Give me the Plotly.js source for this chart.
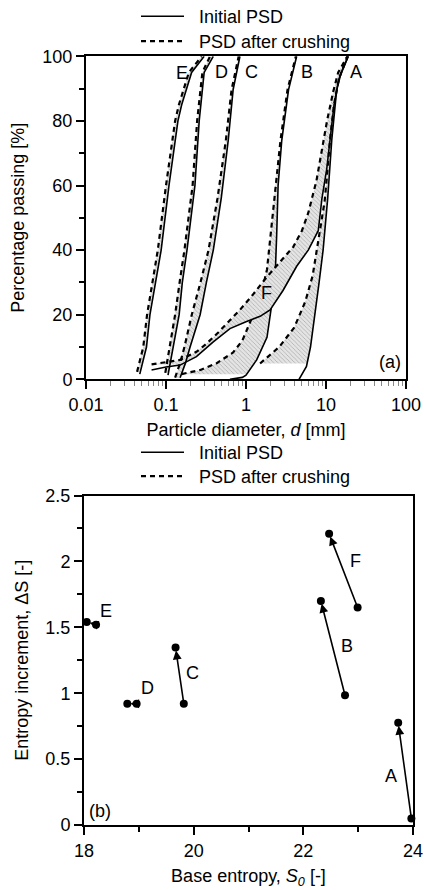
<!DOCTYPE html>
<html>
<head>
<meta charset="utf-8">
<script src="https://cdn.plot.ly/plotly-3.0.1.min.js"></script>
<style>html,body{margin:0;padding:0;background:#fff;}#chart{width:424px;height:890px;}</style>
</head>
<body>
<div id="chart"></div>
<script>
// ---------- Panel (a): particle size distributions ----------
const psdNames = ['A', 'B', 'C', 'D', 'E', 'F'];

// Initial PSD (solid) : diameter [mm] and percentage passing [%]
const A_init_d = [4.6, 5.0, 5.7, 6.4, 7.3, 8.2, 9.2, 10.5, 11.8, 13.6, 15.5, 19];
const A_init_p = [0, 1.5, 4, 10, 20, 30, 40, 56, 74, 89.6, 95, 100];
const B_init_d = [0.63, 0.9, 1.0, 1.36, 1.83, 2.05, 2.3, 2.42, 2.52, 2.8, 3.4, 4.3];
const B_init_p = [0, 0.6, 1.3, 6, 13, 21.5, 30, 45, 60, 74, 89.6, 100];
const C_init_d = [0.15, 0.175, 0.2, 0.267, 0.32, 0.39, 0.49, 0.6, 0.69, 0.84];
const C_init_p = [0.5, 5, 10, 20, 30, 40, 56, 74, 89.6, 100];
const D_init_d = [0.106, 0.122, 0.146, 0.16, 0.183, 0.23, 0.26, 0.3, 0.39];
const D_init_p = [1.3, 10, 20, 30, 40, 60, 80, 95, 100];
const E_init_d = [0.047, 0.057, 0.063, 0.087, 0.109, 0.141, 0.157, 0.209, 0.3];
const E_init_p = [1.6, 10, 20, 40, 60, 80, 85, 95, 100];
const F_init_d = [0.066, 0.1, 0.15, 0.24, 0.39, 0.63, 1.0, 1.5, 2.0, 2.9, 4.3, 6.0, 8.0, 8.9, 10.2, 11.3, 12.6, 14.5, 19];
const F_init_p = [2.9, 3.8, 4.4, 7, 11.6, 15.7, 17.8, 19.5, 21.5, 27.5, 35, 40, 46, 56, 65, 75, 85, 93, 100];

// PSD after crushing (dashed)
const A_crush_d = [1.5, 2.6, 4.0, 5.5, 6.8, 7.9, 9.6, 10.2, 11.2, 12.6, 14.5, 18.5];
const A_crush_p = [4.9, 10, 16, 24, 32, 42, 55, 62, 74, 85, 93, 100];
const B_crush_d = [0.157, 0.27, 0.43, 0.69, 0.9, 1.05, 1.25, 1.5, 1.83, 2.1, 2.35, 2.7, 3.3, 4.2];
const B_crush_p = [1.6, 2.9, 5, 8.3, 12, 16, 20, 25, 34, 48, 61.6, 74, 89.6, 100];
const C_crush_d = [0.13, 0.15, 0.17, 0.21, 0.27, 0.34, 0.44, 0.56, 0.66, 0.81];
const C_crush_p = [0.5, 5, 10, 20, 30, 40, 56, 74, 89.6, 100];
const D_crush_d = [0.098, 0.112, 0.13, 0.148, 0.17, 0.215, 0.245, 0.285, 0.355];
const D_crush_p = [2, 10, 20, 30, 40, 60, 80, 95, 100];
const E_crush_d = [0.0435, 0.052, 0.058, 0.079, 0.1, 0.13, 0.145, 0.193, 0.28];
const E_crush_p = [2.3, 10, 20, 40, 60, 80, 85, 95, 100];
const F_crush_d = [0.066, 0.1, 0.15, 0.24, 0.32, 0.45, 0.65, 0.84, 1.2, 1.8, 2.7, 3.9, 5.0, 6.0, 7.6, 8.8, 10.3, 12.3, 14.2, 18.5];
const F_crush_p = [4.6, 5.3, 6, 8.5, 11, 14.5, 18.5, 21.5, 26, 31.5, 36.5, 41, 46, 51.5, 61.5, 71, 80, 89, 95, 100];

// curve label positions (panel a)
const psdLabelD = [23.7, 5.74, 1.155, 0.5, 0.158, 1.78];
const psdLabelP = [95.2, 95.2, 95.2, 95.2, 94.8, 26.7];

// ---------- Panel (b): entropy ----------
const entNames = ['A', 'B', 'C', 'D', 'E', 'F'];
const S0_init = [23.97, 22.76, 19.82, 18.96, 18.22, 22.99];
const dS_init = [0.05, 0.985, 0.92, 0.92, 1.52, 1.65];
const S0_crush = [23.73, 22.32, 19.67, 18.79, 18.05, 22.47];
const dS_crush = [0.775, 1.70, 1.346, 0.92, 1.54, 2.21];
const entLabelS = [23.6, 22.79, 19.97, 19.16, 18.4, 22.96];
const entLabelDS = [0.37, 1.36, 1.155, 1.04, 1.62, 2.0];

const legendNames = ['Initial PSD', 'PSD after crushing'];

// ---------- build ----------
const FONT = 'Liberation Sans, Arial, sans-serif';
const initSets = {A:[A_init_d,A_init_p],B:[B_init_d,B_init_p],C:[C_init_d,C_init_p],D:[D_init_d,D_init_p],E:[E_init_d,E_init_p],F:[F_init_d,F_init_p]};
const crushSets = {A:[A_crush_d,A_crush_p],B:[B_crush_d,B_crush_p],C:[C_crush_d,C_crush_p],D:[D_crush_d,D_crush_p],E:[E_crush_d,E_crush_p],F:[F_crush_d,F_crush_p]};

const SOLID = {color: 'black', width: 1.6};
const DASHED = {color: 'black', width: 2.2, dash: '5px,4px'};
const PAD = '\u00a0\u00a0';

function interpD(ds, ps, p) {
  for (let i = 0; i < ps.length - 1; i++) {
    if (p >= ps[i] && p <= ps[i + 1]) {
      const t = (p - ps[i]) / (ps[i + 1] - ps[i] || 1);
      return Math.pow(10, Math.log10(ds[i]) + t * (Math.log10(ds[i + 1]) - Math.log10(ds[i])));
    }
  }
  return ds[ds.length - 1];
}
function band(a, b) {
  const pLo = Math.max(a[1][0], b[1][0]);
  const xs = [], ys = [];
  xs.push(interpD(a[0], a[1], pLo)); ys.push(pLo);
  for (let i = 0; i < a[1].length; i++) if (a[1][i] > pLo) { xs.push(a[0][i]); ys.push(a[1][i]); }
  for (let i = b[1].length - 1; i >= 0; i--) if (b[1][i] > pLo) { xs.push(b[0][i]); ys.push(b[1][i]); }
  xs.push(interpD(b[0], b[1], pLo)); ys.push(pLo);
  return [xs, ys];
}
function fillTrace(n) {
  const [bx, by] = band(initSets[n], crushSets[n]);
  return {
    x: bx, y: by, xaxis: 'x', yaxis: 'y', type: 'scatter', mode: 'lines',
    fill: 'toself', fillcolor: '#e0e0e0',
    fillpattern: {shape: '\\', bgcolor: '#e4e4e4', fgcolor: '#b0b0b0', size: 3, solidity: 0.28},
    line: {width: 0, color: 'rgba(0,0,0,0)'}, showlegend: false, hoverinfo: 'skip'
  };
}
function lineTraces(n) {
  return [{
    x: crushSets[n][0], y: crushSets[n][1], xaxis: 'x', yaxis: 'y', type: 'scatter', mode: 'lines',
    line: DASHED, name: PAD + legendNames[1], showlegend: n === 'E', legend: 'legend2'
  }, {
    x: initSets[n][0], y: initSets[n][1], xaxis: 'x', yaxis: 'y', type: 'scatter', mode: 'lines',
    line: SOLID, name: PAD + legendNames[0], showlegend: n === 'E', legend: 'legend'
  }];
}

const traces = [];
// bands A-E, then B lines, then band F (which covers B inside it), then remaining lines
['A', 'B', 'C', 'D', 'E'].forEach(n => traces.push(fillTrace(n)));
traces.push(...lineTraces('B'));
traces.push(fillTrace('F'));
['A', 'C', 'D', 'E', 'F'].forEach(n => traces.push(...lineTraces(n)));

// legend entries for panel (b)
traces.push({x: [null], y: [null], xaxis: 'x2', yaxis: 'y2', type: 'scatter', mode: 'lines',
  line: SOLID, name: PAD + legendNames[0], legend: 'legend3'});
traces.push({x: [null], y: [null], xaxis: 'x2', yaxis: 'y2', type: 'scatter', mode: 'lines',
  line: DASHED, name: PAD + legendNames[1], legend: 'legend4'});

// entropy markers
const allS = [], allDS = [];
entNames.forEach((n, i) => { allS.push(S0_init[i], S0_crush[i], null); allDS.push(dS_init[i], dS_crush[i], null); });
traces.push({x: allS, y: allDS, xaxis: 'x2', yaxis: 'y2', type: 'scatter', mode: 'markers',
  marker: {color: 'black', size: 8}, showlegend: false, cliponaxis: false, hoverinfo: 'skip'});

const annotations = [];
psdNames.forEach((n, i) => {
  annotations.push({xref: 'x', yref: 'y', x: Math.log10(psdLabelD[i]), y: psdLabelP[i], text: n,
    showarrow: false, font: {family: FONT, size: 18, color: 'black'}});
});
entNames.forEach((n, i) => {
  annotations.push({xref: 'x2', yref: 'y2', axref: 'x2', ayref: 'y2',
    x: S0_crush[i], y: dS_crush[i], ax: S0_init[i], ay: dS_init[i], text: '',
    showarrow: true, arrowhead: 2, arrowsize: 1.1, arrowwidth: 1.6, arrowcolor: 'black', standoff: 3});
  annotations.push({xref: 'x2', yref: 'y2', x: entLabelS[i], y: entLabelDS[i], text: n,
    showarrow: false, font: {family: FONT, size: 18, color: 'black'}});
});
annotations.push({xref: 'paper', yref: 'paper', x: 390/424, y: 1 - 361.5/890, xanchor: 'center', yanchor: 'middle',
  text: '(a)', showarrow: false, font: {family: FONT, size: 18, color: 'black'}});
annotations.push({xref: 'paper', yref: 'paper', x: 100/424, y: 1 - 811/890, xanchor: 'center', yanchor: 'middle',
  text: '(b)', showarrow: false, font: {family: FONT, size: 18, color: 'black'}});

const axBase = {
  showline: true, linewidth: 2, linecolor: 'black', mirror: true,
  ticks: 'outside', ticklen: 8, tickwidth: 2, tickcolor: 'black',
  showgrid: false, zeroline: false,
  tickfont: {family: FONT, size: 18, color: 'black'}
};
function leg(yTopPx) {
  return {x: 136/424, y: 1 - yTopPx/890, xanchor: 'left', yanchor: 'top', bgcolor: 'rgba(0,0,0,0)',
    font: {family: FONT, size: 18, color: 'black'}, itemwidth: 43, borderwidth: 0};
}
const layout = {
  width: 424, height: 890, margin: {l: 0, r: 0, t: 0, b: 0, autoexpand: false},
  paper_bgcolor: 'white', plot_bgcolor: 'white',
  font: {family: FONT, size: 18, color: 'black'},
  xaxis: Object.assign({}, axBase, {
    type: 'log', range: [-2, 2], domain: [86/424, 406/424], anchor: 'y',
    tickvals: [0.01, 0.1, 1, 10, 100], ticktext: ['0.01', '0.1', '1', '10', '100'],
    minor: {ticks: 'outside', ticklen: 5, tickwidth: 1, tickcolor: '#888', dtick: 'D1', showgrid: false},
    title: {text: 'Particle diameter, <i>d</i> [mm]', font: {family: FONT, size: 18, color: 'black'}, standoff: 9}
  }),
  yaxis: Object.assign({}, axBase, {
    range: [0, 100], domain: [1 - 379.3/890, 1 - 56.3/890], anchor: 'x', dtick: 20,
    minor: {ticks: 'outside', ticklen: 5, tickwidth: 2, tickcolor: 'black', dtick: 10, showgrid: false},
    title: {text: 'Percentage passing [%]', font: {family: FONT, size: 18, color: 'black'}, standoff: 13}
  }),
  xaxis2: Object.assign({}, axBase, {
    range: [18, 24], domain: [84/424, 413/424], anchor: 'y2', dtick: 2,
    minor: {ticks: 'outside', ticklen: 5, tickwidth: 2, tickcolor: 'black', dtick: 1, showgrid: false},
    title: {text: 'Base entropy, <i>S</i><sub><i>0</i></sub> [-]', font: {family: FONT, size: 18, color: 'black'}, standoff: 10}
  }),
  yaxis2: Object.assign({}, axBase, {
    range: [0, 2.5], domain: [1 - 825/890, 1 - 495.5/890], anchor: 'x2', dtick: 0.5,
    minor: {ticks: 'outside', ticklen: 5, tickwidth: 2, tickcolor: 'black', dtick: 0.25, showgrid: false},
    title: {text: 'Entropy increment, ΔS [-]', font: {family: FONT, size: 18, color: 'black'}, standoff: 12}
  }),
  legend: leg(-2),
  legend2: leg(23),
  legend3: leg(434),
  legend4: leg(458),
  annotations: annotations,
  showlegend: true
};
Plotly.newPlot('chart', traces, layout, {staticPlot: true, displayModeBar: false});
</script>
</body>
</html>
